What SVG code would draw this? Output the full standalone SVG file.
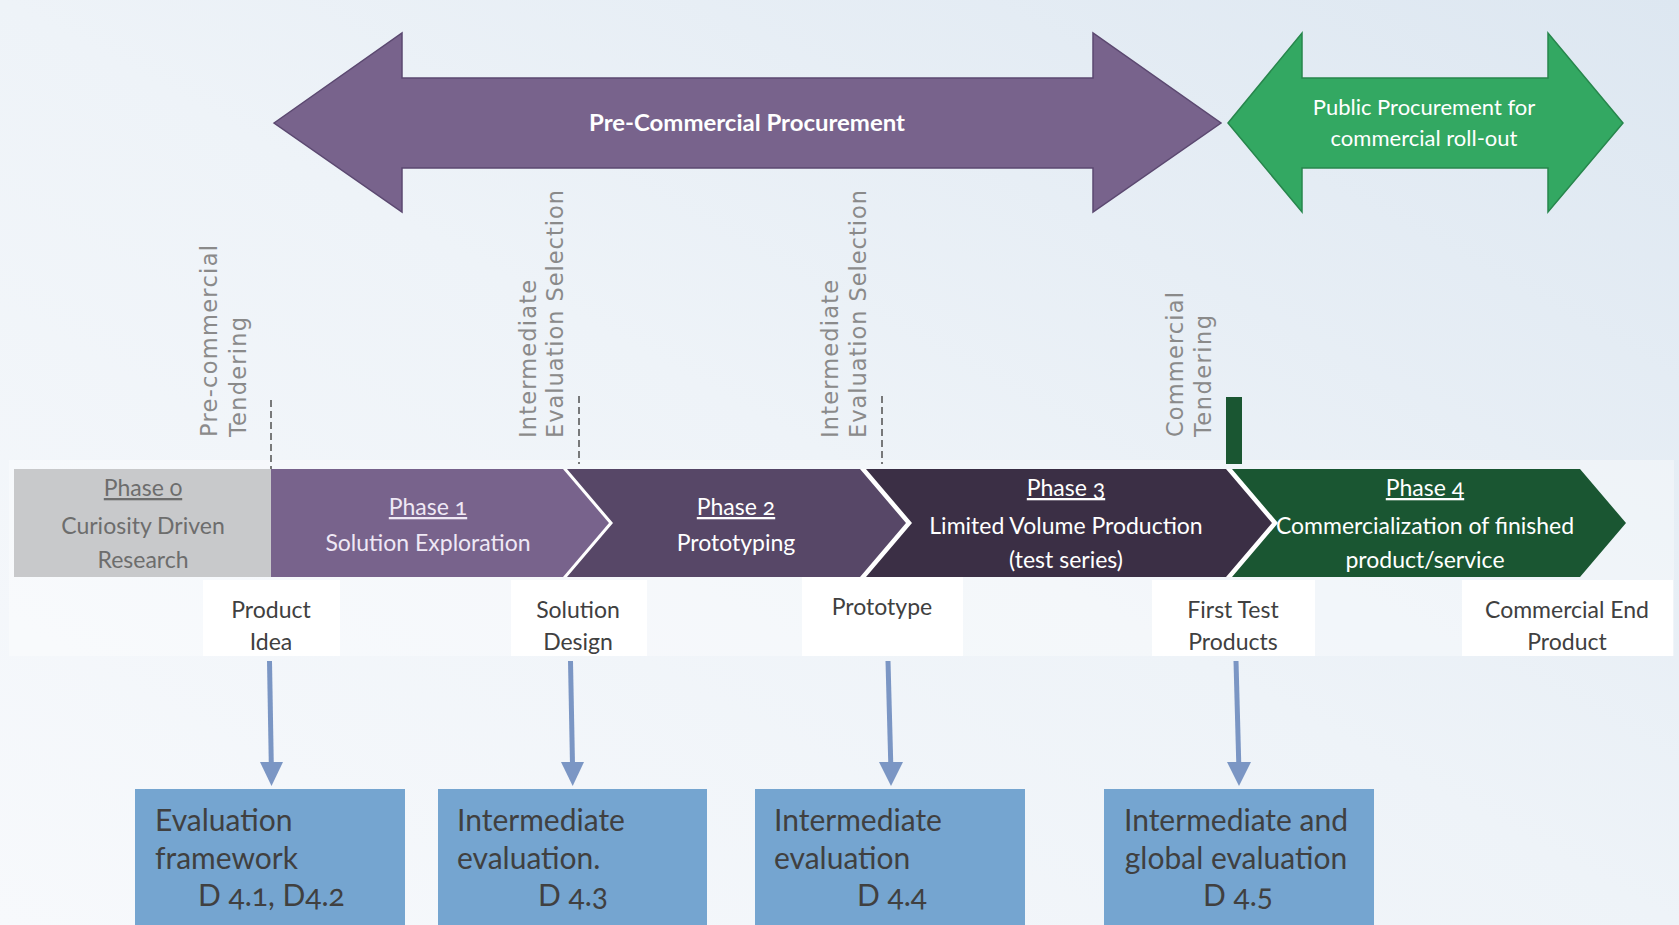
<svg xmlns="http://www.w3.org/2000/svg" width="1679" height="925" viewBox="0 0 1679 925">
<defs>
<linearGradient id="bg" x1="0" y1="1" x2="1" y2="0">
<stop offset="0" stop-color="#f7f9fc"/>
<stop offset="0.5" stop-color="#eef3f8"/>
<stop offset="1" stop-color="#dde7f1"/>
</linearGradient>
<style>
.t{font-family:Lato,"Liberation Sans",sans-serif;font-variant-numeric:oldstyle-nums;}
.ph{font-size:23px;text-anchor:middle;fill:#ffffff;}
.lbl{font-size:23px;text-anchor:middle;fill:#404040;}
.box{font-size:30px;fill:#404040;}
.v{font-family:"DejaVu Sans",Verdana,sans-serif;font-size:22.5px;fill:#8a8a8a;}
.dash{stroke:#505050;stroke-width:1.5;stroke-dasharray:7 4;fill:none;}
.con{stroke:#7b96c4;stroke-width:5;fill:none;}
.head{fill:#7b96c4;}
.wb{fill:#ffffff;}
.bb{fill:#75a5d0;}
.u{text-decoration:underline;}
</style>
</defs>
<rect x="0" y="0" width="1679" height="925" fill="url(#bg)"/>
<rect x="9" y="460" width="1665" height="196" fill="#ffffff" opacity="0.35"/>

<g id="pcp-arrow">
<polygon points="274,123 402,33 402,78 1093,78 1093,33 1221,123 1093,212 1093,168 402,168 402,212" fill="#78638c" stroke="#5b4870" stroke-width="1.5"/>
<text class="t" x="747" y="131" font-size="23" font-weight="bold" text-anchor="middle" fill="#ffffff" textLength="316" lengthAdjust="spacingAndGlyphs">Pre-Commercial Procurement</text>
</g>

<g id="pp-arrow">
<polygon points="1228,123 1302,33 1302,78 1548,78 1548,33 1623,123 1548,212 1548,168 1302,168 1302,212" fill="#33a862" stroke="#27864c" stroke-width="1.5"/>
<text class="t" x="1424" y="115" font-size="22" text-anchor="middle" fill="#ffffff">Public Procurement for</text>
<text class="t" x="1424" y="146" font-size="22" text-anchor="middle" fill="#ffffff">commercial roll-out</text>
</g>

<g id="milestone-pre-commercial-tendering">
<text class="v" transform="rotate(-90 217 437)" x="217" y="437" textLength="192" lengthAdjust="spacing">Pre-commercial</text>
<text class="v" transform="rotate(-90 246 437)" x="246" y="437" textLength="120" lengthAdjust="spacing">Tendering</text>
<line class="dash" x1="271" y1="400" x2="271" y2="469"/>
</g>

<g id="milestone-eval-1">
<text class="v" transform="rotate(-90 536 438)" x="536" y="438" textLength="158" lengthAdjust="spacing">Intermediate</text>
<text class="v" transform="rotate(-90 563 438)" x="563" y="438" textLength="248" lengthAdjust="spacing">Evaluation Selection</text>
<line class="dash" x1="579" y1="396" x2="579" y2="464"/>
</g>

<g id="milestone-eval-2">
<text class="v" transform="rotate(-90 838 438)" x="838" y="438" textLength="158" lengthAdjust="spacing">Intermediate</text>
<text class="v" transform="rotate(-90 866 438)" x="866" y="438" textLength="248" lengthAdjust="spacing">Evaluation Selection</text>
<line class="dash" x1="882" y1="396" x2="882" y2="464"/>
</g>

<g id="milestone-commercial-tendering">
<text class="v" transform="rotate(-90 1183 437)" x="1183" y="437" textLength="145" lengthAdjust="spacing">Commercial</text>
<text class="v" transform="rotate(-90 1211 437)" x="1211" y="437" textLength="122" lengthAdjust="spacing">Tendering</text>
<rect x="1226" y="397" width="16" height="67" fill="#1a5632"/>
</g>

<rect x="560" y="469" width="720" height="108" fill="#ffffff"/>

<g id="phase0">
<rect x="14" y="469" width="257" height="108" fill="#c8c9cb"/>
<text class="t ph u" x="143" y="496" style="fill:#6d6d6d">Phase 0</text>
<text class="t ph" x="143" y="534" style="fill:#6d6d6d">Curiosity Driven</text>
<text class="t ph" x="143" y="568" style="fill:#6d6d6d">Research</text>
</g>

<g id="phase1">
<polygon points="271,469 563,469 609,523 563,577 271,577" fill="#78638c"/>
<text class="t ph u" x="428" y="515" style="fill:#efe8f5">Phase 1</text>
<text class="t ph" x="428" y="551" style="fill:#efe8f5">Solution Exploration</text>
</g>

<g id="phase2">
<polygon points="567,469 860,469 906,523 860,577 567,577 613,523" fill="#574767"/>
<text class="t ph u" x="736" y="515">Phase 2</text>
<text class="t ph" x="736" y="551">Prototyping</text>
</g>

<g id="phase3">
<polygon points="866,469 1226,469 1272,523 1226,577 866,577 912,523" fill="#3b2f45"/>
<text class="t ph u" x="1066" y="496">Phase 3</text>
<text class="t ph" x="1066" y="534">Limited Volume Production</text>
<text class="t ph" x="1066" y="568">(test series)</text>
</g>

<g id="phase4">
<polygon points="1232,469 1580,469 1626,523 1580,577 1232,577 1278,523" fill="#1a5632"/>
<text class="t ph u" x="1425" y="496">Phase 4</text>
<text class="t ph" x="1425" y="534">Commercialization of finished</text>
<text class="t ph" x="1425" y="568">product/service</text>
</g>

<g id="out-product-idea">
<rect class="wb" x="203" y="580" width="137" height="76"/>
<text class="t lbl" x="271" y="618">Product</text>
<text class="t lbl" x="271" y="650">Idea</text>
</g>
<g id="out-solution-design">
<rect class="wb" x="511" y="580" width="136" height="76"/>
<text class="t lbl" x="578" y="618">Solution</text>
<text class="t lbl" x="578" y="650">Design</text>
</g>
<g id="out-prototype">
<rect class="wb" x="802" y="577" width="161" height="79"/>
<text class="t lbl" x="882" y="615">Prototype</text>
</g>
<g id="out-first-test">
<rect class="wb" x="1152" y="580" width="163" height="76"/>
<text class="t lbl" x="1233" y="618">First Test</text>
<text class="t lbl" x="1233" y="650">Products</text>
</g>
<g id="out-commercial-end">
<rect class="wb" x="1462" y="580" width="211" height="76"/>
<text class="t lbl" x="1567" y="618">Commercial End</text>
<text class="t lbl" x="1567" y="650">Product</text>
</g>

<g id="connectors">
<line class="con" x1="269.5" y1="661" x2="271.3" y2="765"/>
<polygon class="head" points="260,762 283,762 271.5,786"/>
<line class="con" x1="570.5" y1="661" x2="572.5" y2="765"/>
<polygon class="head" points="561,762 584,762 572.7,786"/>
<line class="con" x1="888" y1="661" x2="890.8" y2="765"/>
<polygon class="head" points="879,762 903,762 891,786"/>
<line class="con" x1="1236" y1="661" x2="1238.8" y2="765"/>
<polygon class="head" points="1227,762 1251,762 1239,786"/>
</g>

<g id="eval-framework">
<rect class="bb" x="135" y="789" width="270" height="136"/>
<text class="t box" x="155" y="831">Evaluation</text>
<text class="t box" x="155" y="869">framework</text>
<text class="t box" x="198" y="906">D 4.1, D4.2</text>
</g>
<g id="eval-intermediate-1">
<rect class="bb" x="438" y="789" width="269" height="136"/>
<text class="t box" x="457" y="831">Intermediate</text>
<text class="t box" x="457" y="869">evaluation.</text>
<text class="t box" x="538" y="906">D 4.3</text>
</g>
<g id="eval-intermediate-2">
<rect class="bb" x="755" y="789" width="270" height="136"/>
<text class="t box" x="774" y="831">Intermediate</text>
<text class="t box" x="774" y="869">evaluation</text>
<text class="t box" x="857" y="906">D 4.4</text>
</g>
<g id="eval-global">
<rect class="bb" x="1104" y="789" width="270" height="136"/>
<text class="t box" x="1236" y="831" text-anchor="middle">Intermediate and</text>
<text class="t box" x="1236" y="869" text-anchor="middle">global evaluation</text>
<text class="t box" x="1238" y="906" text-anchor="middle">D 4.5</text>
</g>
</svg>
